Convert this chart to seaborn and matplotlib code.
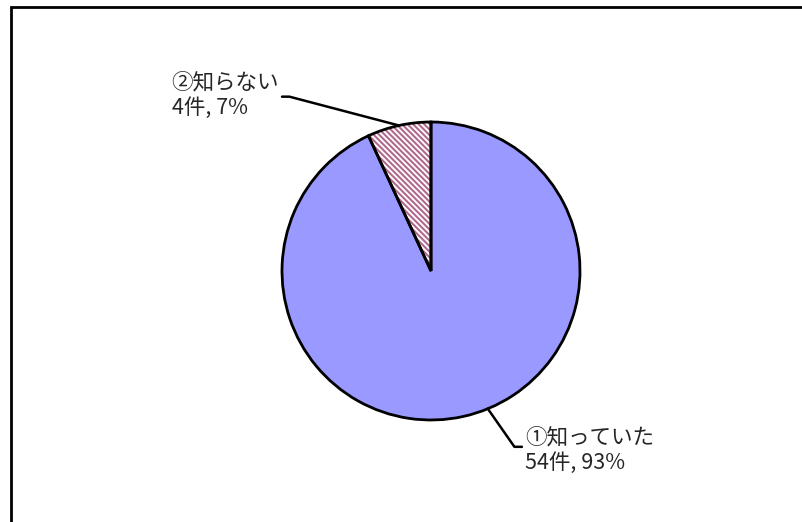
import numpy as np
import matplotlib
matplotlib.use("Agg")
import matplotlib.pyplot as plt
import seaborn as sns
from matplotlib.patches import Rectangle

#Data
labels = ['①知っていた', '②知らない']
counts = [54, 4]
percents = [93, 7]

sns.set_style('white')
plt.rcParams['font.family'] = ['Noto Sans CJK JP', 'DejaVu Sans']
plt.rcParams['hatch.linewidth'] = 1.5

W, H = 803, 522
fig = plt.figure(figsize=(W / 100, H / 100), dpi=100)

#pie placement (pixels)
cx, cy, r = 431, 251, 149
ax = fig.add_axes([(cx - r) / W, (cy - r) / H, 2 * r / W, 2 * r / H])

#fill pass (hatch takes the edge colour), then outline pass
wedges, _ = ax.pie(counts, startangle=90, counterclock=False,
                   colors=['#9999ff', 'white'],
                   wedgeprops=dict(linewidth=0))
wedges[1].set_edgecolor('#b06a8e')
wedges[1].set_hatch('\\\\\\\\\\\\')
ax.pie(counts, startangle=90, counterclock=False,
       wedgeprops=dict(fill=False, edgecolor='black', linewidth=2))
ax.set_aspect('equal')
ax.set_xlim(-1, 1)
ax.set_ylim(-1, 1)
ax.axis('off')

#labels with leader lines
text_pos = [(0.63, -1.2), (-1.74, 1.18)]
elbow = [(0.56, -1.18), (-0.95, 1.17)]
line_end = [0.61, -1.0]
offset = [10, 0]
for w, lab, n, p, tp, el, le, off in zip(wedges, labels, counts, percents,
                                         text_pos, elbow, line_end, offset):
    ang = np.deg2rad((w.theta1 + w.theta2) / 2 + off)
    x0, y0 = np.cos(ang), np.sin(ang)
    ax.plot([x0, el[0], le], [y0, el[1], el[1]], color='black', lw=1.8,
            clip_on=False)
    ax.text(tp[0], tp[1], f'{lab}\n{n}件, {p}%', ha='left', va='center',
            fontsize=15.5, linespacing=1.2, clip_on=False)

#outer frame
fig.patches.append(Rectangle((11 / W, -0.1), 1.2, 515 / H + 0.1,
                             transform=fig.transFigure, fill=False,
                             edgecolor='black', linewidth=2))

fig.savefig('out.png', dpi=100)
